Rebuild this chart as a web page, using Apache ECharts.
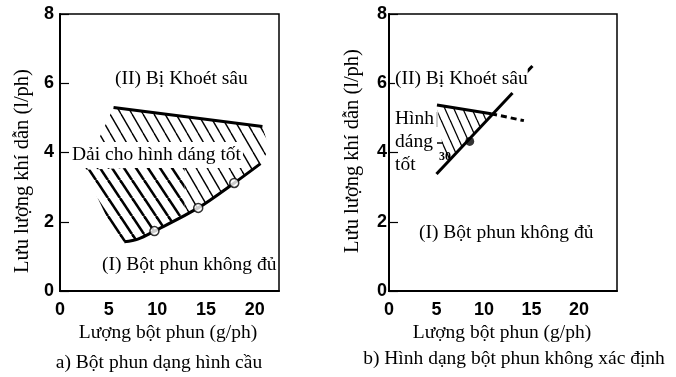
<!DOCTYPE html>
<html>
<head>
<meta charset="utf-8">
<script src="https://cdn.jsdelivr.net/npm/echarts@6/dist/echarts.min.js"></script>
<style>
html,body{margin:0;padding:0;background:#fff;}
#chart{width:676px;height:377px;}
</style>
</head>
<body>
<div id="chart"></div>
<script>
// ---------- data: chart a) ----------
const xTicks = [0, 5, 10, 15, 20];
const yTicks = [0, 2, 4, 6, 8];
const aUpperLine = [[5.5, 5.3], [20.8, 4.75]];
const aLowerCurve = [[6.6, 1.42], [8.0, 1.5], [9.7, 1.73], [14.2, 2.4], [17.9, 3.12], [20.6, 3.68]];
const aCircles = [[9.7, 1.73], [14.2, 2.4], [17.9, 3.12]];
const aHatchThin = [[5.5, 5.3], [20.8, 4.75], [21.5, 4.1], [20.6, 3.68], [17.9, 3.12], [14.2, 2.4], [12.8, 2.18], [12.8, 3.62], [2.5, 3.5]];
const aHatchThick = [[2.5, 3.5], [12.8, 3.62], [12.8, 2.18], [9.7, 1.73], [8.0, 1.5], [6.6, 1.42], [6.0, 1.42]];
// ---------- data: chart b) ----------
const bBoundaryI = [[5.0, 3.38], [13.0, 5.72]];
const bBoundaryITail = [[14.4, 6.3], [15.1, 6.5]];
const bBoundaryII = [[5.05, 5.37], [10.75, 5.12]];
const bBoundaryIIDashed = [[10.75, 5.12], [14.2, 4.92]];
const bPoint = [[8.5, 4.32]];
const bHatch = [[5.05, 5.37], [10.75, 5.12], [5.9, 3.64]];

const SERIF = "'Liberation Serif','Times New Roman',serif";
const TICKFONT = "'Liberation Sans Narrow','Liberation Sans',Arial,sans-serif";
const FS = '19.5px ';

function makeHatch(w, h, lw) {
  const c = document.createElement('canvas');
  c.width = w; c.height = h;
  const ctx = c.getContext('2d');
  ctx.strokeStyle = '#000';
  ctx.lineWidth = lw;
  for (const off of [-w, 0, w]) {
    ctx.beginPath();
    ctx.moveTo(off, 0);
    ctx.lineTo(off + w, h);
    ctx.stroke();
  }
  return { image: c, repeat: 'repeat' };
}
const patThin = makeHatch(11, 19, 1.4);
const patThick = makeHatch(12, 18, 2.6);
const patB = makeHatch(9, 20, 1.3);

function polySeries(idx, pts, pattern) {
  return {
    type: 'custom', xAxisIndex: idx, yAxisIndex: idx, z: 1,
    data: pts, silent: true,
    renderItem: function (params, api) {
      if (params.dataIndex !== 0) return null;
      return {
        type: 'polygon',
        shape: { points: pts.map(p => api.coord(p)) },
        style: { fill: pattern, stroke: null }
      };
    }
  };
}
function lineSeries(idx, data, opts) {
  return Object.assign({
    type: 'line', xAxisIndex: idx, yAxisIndex: idx, data: data,
    symbol: 'none', z: 3, silent: true,
    lineStyle: { color: '#000', width: 3 }
  }, opts || {});
}

function xAxis(idx, max) {
  return {
    type: 'value', gridIndex: idx, min: 0, max: max, interval: 5,
    axisLine: { show: true, lineStyle: { color: '#000', width: 2 } },
    axisTick: { show: false }, splitLine: { show: false },
    axisLabel: { color: '#000', fontFamily: TICKFONT, fontWeight: 'bold', fontSize: 18, margin: 10,
      showMaxLabel: false, formatter: v => xTicks.includes(v) ? String(v) : '' }
  };
}
function yAxis(idx, margin) {
  return {
    type: 'value', gridIndex: idx, min: 0, max: 8, interval: 2,
    axisLine: { show: true, lineStyle: { color: '#000', width: 2 } },
    axisTick: { show: true, inside: true, length: 9, lineStyle: { color: '#000', width: 1.2 } },
    splitLine: { show: false },
    axisLabel: { color: '#000', fontFamily: TICKFONT, fontWeight: 'bold', fontSize: 18, margin: margin,
      formatter: v => yTicks.includes(v) ? String(v) : '' }
  };
}

function txt(x, y, s, extra) {
  return {
    type: 'text', x: x, y: y, z: 100,
    style: Object.assign({ text: s, fill: '#000', font: FS + SERIF, align: 'left', verticalAlign: 'middle' }, extra || {})
  };
}

const chart = echarts.init(document.getElementById('chart'), null, { renderer: 'canvas' });
chart.setOption({
  animation: false,
  backgroundColor: '#fff',
  grid: [
    { left: 60, top: 14, width: 219, height: 277, show: true, borderColor: '#000', borderWidth: 1.5, containLabel: false },
    { left: 389, top: 14, width: 228, height: 277, show: true, borderColor: '#000', borderWidth: 1.5, containLabel: false }
  ],
  xAxis: [xAxis(0, 22.5), xAxis(1, 24)],
  yAxis: [yAxis(0, 6), yAxis(1, 2)],
  series: [
    polySeries(0, aHatchThin, patThin),
    polySeries(0, aHatchThick, patThick),
    lineSeries(0, aUpperLine),
    lineSeries(0, aLowerCurve, { smooth: 0.3 }),
    { type: 'scatter', xAxisIndex: 0, yAxisIndex: 0, data: aCircles, symbol: 'circle', symbolSize: 9, z: 4, silent: true,
      itemStyle: { color: '#fff', borderColor: '#000', borderWidth: 1.5 } },
    polySeries(1, bHatch, patB),
    lineSeries(1, bBoundaryI),
    lineSeries(1, bBoundaryITail),
    lineSeries(1, bBoundaryII),
    lineSeries(1, bBoundaryIIDashed, { lineStyle: { color: '#000', width: 3, type: [6, 4] } }),
    { type: 'scatter', xAxisIndex: 1, yAxisIndex: 1, data: bPoint, symbol: 'circle', symbolSize: 9, z: 4, silent: true,
      itemStyle: { color: '#000' } }
  ],
  graphic: [
    // chart a annotations
    txt(115, 79, '(II) Bị Khoét sâu'),
    txt(70, 155, 'Dải cho hình dáng tốt', { backgroundColor: '#fff', padding: [3, 2, 3, 2] }),
    txt(102, 265, '(I) Bột phun không đủ'),
    // chart b annotations
    txt(395, 79, '(II) Bị Khoét sâu', { backgroundColor: '#fff', padding: [1, 0, 1, 0] }),
    txt(395, 119, 'Hình'),
    txt(395, 142, 'dáng'),
    txt(395, 165, 'tốt'),
    txt(419, 233, '(I) Bột phun không đủ'),
    txt(439, 157, '30', { font: 'bold 12px ' + SERIF }),
    { type: 'line', z: 100, shape: { x1: 437, y1: 112, x2: 437, y2: 127 }, style: { stroke: '#999', lineWidth: 1 } },
    { type: 'line', z: 100, shape: { x1: 437, y1: 143, x2: 443, y2: 143 }, style: { stroke: '#000', lineWidth: 1.5 } },
    // axis names and captions
    txt(168, 333, 'Lượng bột phun (g/ph)', { align: 'center' }),
    txt(502, 333, 'Lượng bột phun (g/ph)', { align: 'center' }),
    txt(159, 363, 'a) Bột phun dạng hình cầu', { align: 'center' }),
    txt(514, 359, 'b) Hình dạng bột phun không xác định', { align: 'center' }),
    { type: 'text', x: 23, y: 171, rotation: Math.PI / 2, z: 100,
      style: { text: 'Lưu lượng khí dẫn (l/ph)', fill: '#000', font: '20.5px ' + SERIF, align: 'center', verticalAlign: 'middle' } },
    { type: 'text', x: 353, y: 151, rotation: Math.PI / 2, z: 100,
      style: { text: 'Lưu lượng khí dẫn (l/ph)', fill: '#000', font: '20.5px ' + SERIF, align: 'center', verticalAlign: 'middle' } }
  ]
});
</script>
</body>
</html>
